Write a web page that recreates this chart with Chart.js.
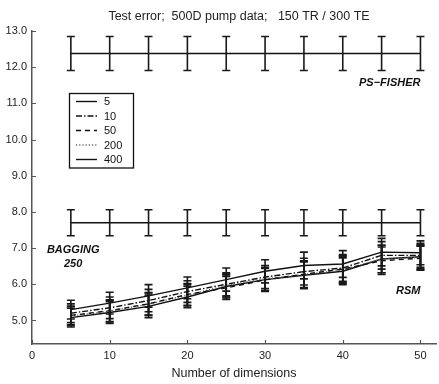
<!DOCTYPE html>
<html>
<head>
<meta charset="utf-8">
<script src="https://cdn.jsdelivr.net/npm/chart.js@4.4.0/dist/chart.umd.min.js"></script>
<style>
  html, body { margin: 0; padding: 0; background: #fff; }
  #wrap { width: 439px; height: 384px; }
</style>
</head>
<body>
<div id="wrap"><canvas id="chart" width="439" height="384"></canvas></div>
<script>
// Data
const dims = [5, 10, 15, 20, 25, 30, 35, 40, 45, 50];
const xTicks = [0, 10, 20, 30, 40, 50];
const yTicks = [5, 6, 7, 8, 9, 10, 11, 12, 13];

const psFisher = [12.38, 12.38, 12.38, 12.38, 12.38, 12.38, 12.38, 12.38, 12.38, 12.38];
const psFisherErr = [0.47, 0.47, 0.47, 0.47, 0.47, 0.47, 0.47, 0.47, 0.47, 0.47];
const bagging = [7.70, 7.70, 7.70, 7.70, 7.70, 7.70, 7.70, 7.70, 7.70, 7.70];
const baggingErr = [0.36, 0.36, 0.36, 0.36, 0.36, 0.36, 0.36, 0.36, 0.36, 0.36];

const rsm5   = [5.30, 5.48, 5.68, 5.90, 6.13, 6.36, 6.52, 6.56, 6.89, 6.87];
const rsm10  = [5.20, 5.35, 5.55, 5.80, 6.00, 6.20, 6.35, 6.45, 6.80, 6.80];
const rsm50  = [5.14, 5.27, 5.46, 5.72, 5.90, 6.12, 6.28, 6.42, 6.65, 6.72];
const rsm200 = [5.12, 5.26, 5.45, 5.70, 5.97, 6.15, 6.27, 6.40, 6.70, 6.74];
const rsm400 = [5.08, 5.22, 5.39, 5.65, 5.94, 6.13, 6.25, 6.36, 6.70, 6.76];
const rsmErr = [0.26, 0.30, 0.31, 0.30, 0.32, 0.32, 0.37, 0.37, 0.38, 0.33];

const chartTitle = 'Test error;  500D pump data;   150 TR / 300 TE';
const FONT = '"Liberation Sans", Arial, Helvetica, sans-serif';

function points(values) {
    return dims.map((d, i) => ({ x: d, y: values[i] }));
}

// vertical error bars with caps, drawn through the scales
const errorBars = {
    id: 'errorBars',
    afterDatasetsDraw(chart) {
        const { ctx, scales: { x, y } } = chart;
        ctx.save();
        chart.data.datasets.forEach(ds => {
            if (!ds.errors) return;
            ctx.strokeStyle = '#1a1a1a';
            ctx.lineWidth = 1.6;
            ds.data.forEach((p, i) => {
                const px = x.getPixelForValue(p.x);
                const top = y.getPixelForValue(p.y + ds.errors[i]);
                const bot = y.getPixelForValue(p.y - ds.errors[i]);
                ctx.beginPath();
                ctx.moveTo(px, top); ctx.lineTo(px, bot);
                ctx.moveTo(px - 4, top); ctx.lineTo(px + 4, top);
                ctx.moveTo(px - 4, bot); ctx.lineTo(px + 4, bot);
                ctx.stroke();
            });
        });
        ctx.restore();
    }
};

// inward tick marks
const innerTicks = {
    id: 'innerTicks',
    afterDraw(chart) {
        const { ctx, chartArea: area, scales: { x, y } } = chart;
        ctx.save();
        ctx.strokeStyle = '#555';
        ctx.lineWidth = 1.2;
        ctx.beginPath();
        xTicks.forEach(v => {
            const px = Math.round(x.getPixelForValue(v)) + 0.5;
            ctx.moveTo(px, area.bottom);
            ctx.lineTo(px, area.bottom - 4);
        });
        yTicks.forEach(v => {
            const py = Math.round(y.getPixelForValue(v)) + 0.5;
            ctx.moveTo(area.left, py);
            ctx.lineTo(area.left + 4, py);
        });
        ctx.stroke();
        ctx.restore();
    }
};

// title and method labels
const textLabels = {
    id: 'textLabels',
    afterDraw(chart) {
        const { ctx, chartArea: area, scales: { x, y } } = chart;
        ctx.save();
        ctx.fillStyle = '#222';
        ctx.font = '12.5px ' + FONT;
        ctx.textAlign = 'center';
        ctx.textBaseline = 'middle';
        ctx.fillText(chartTitle, (area.left + area.right) / 2 + 5, 17);

        ctx.fillStyle = '#111';
        ctx.font = 'italic bold 11px ' + FONT;
        ctx.textAlign = 'right';
        ctx.fillText('PS\u2212FISHER', x.getPixelForValue(50), y.getPixelForValue(11.55));
        ctx.fillText('RSM', x.getPixelForValue(50), y.getPixelForValue(5.82));
        ctx.textAlign = 'center';
        ctx.fillText('BAGGING', x.getPixelForValue(5.3), y.getPixelForValue(6.95));
        ctx.fillText('250', x.getPixelForValue(5.3), y.getPixelForValue(6.57));
        ctx.restore();
    }
};

// boxed legend inside the plot
const boxLegend = {
    id: 'boxLegend',
    afterDraw(chart) {
        const { ctx, chartArea: area } = chart;
        const items = chart.data.datasets.filter(ds => ds.inLegend);
        const left = area.left + 37, top = area.top + 62;
        const w = 64, rowH = 14.5;
        const h = items.length * rowH + 2;
        ctx.save();
        ctx.fillStyle = '#fff';
        ctx.fillRect(left, top, w, h);
        ctx.strokeStyle = '#111';
        ctx.lineWidth = 1.3;
        ctx.strokeRect(left + 0.5, top + 0.5, w, h);
        ctx.font = '11px ' + FONT;
        ctx.textBaseline = 'middle';
        ctx.textAlign = 'left';
        items.forEach((ds, i) => {
            const cy = top + 8.5 + i * rowH;
            ctx.strokeStyle = ds.borderColor;
            ctx.lineWidth = ds.borderWidth;
            ctx.setLineDash(ds.borderDash || []);
            ctx.beginPath();
            ctx.moveTo(left + 7, cy);
            ctx.lineTo(left + 28, cy);
            ctx.stroke();
            ctx.setLineDash([]);
            ctx.fillStyle = '#111';
            ctx.fillText(ds.label, left + 35, cy + 0.5);
        });
        ctx.restore();
    }
};

function line(label, values, errors, opts) {
    return Object.assign({
        label: label,
        data: points(values),
        errors: errors,
        borderColor: '#111',
        borderWidth: 1.4,
        pointRadius: 0,
        fill: false,
        tension: 0
    }, opts);
}

new Chart(document.getElementById('chart'), {
    type: 'line',
    data: {
        datasets: [
            line('PS-FISHER', psFisher, psFisherErr, { borderWidth: 1.6 }),
            line('BAGGING 250', bagging, baggingErr, { borderWidth: 1.6 }),
            line('5', rsm5, rsmErr, { inLegend: true }),
            line('10', rsm10, rsmErr, { inLegend: true, borderDash: [6, 2, 1.5, 2] }),
            line('50', rsm50, rsmErr, { inLegend: true, borderDash: [5, 4] }),
            line('200', rsm200, rsmErr, { inLegend: true, borderDash: [1.2, 2], borderColor: '#666' }),
            line('400', rsm400, rsmErr, { inLegend: true })
        ]
    },
    options: {
        responsive: false,
        animation: false,
        layout: { padding: { left: 0, right: 3, top: 31, bottom: 0 } },
        plugins: {
            legend: { display: false },
            tooltip: { enabled: false },
            title: { display: false }
        },
        scales: {
            x: {
                type: 'linear',
                min: 0,
                max: 52,
                afterBuildTicks: scale => { scale.ticks = xTicks.map(v => ({ value: v })); },
                afterFit: scale => { scale.height = 40; },
                grid: { display: false, drawTicks: false },
                border: { display: true, color: '#555', width: 1.5 },
                ticks: {
                    color: '#222',
                    padding: 5,
                    font: { family: FONT, size: 11 },
                    maxRotation: 0
                },
                title: {
                    display: true,
                    text: 'Number of dimensions',
                    color: '#222',
                    font: { family: FONT, size: 12.5 },
                    padding: { top: 0, bottom: 3 }
                }
            },
            y: {
                type: 'linear',
                min: 4.35,
                max: 13,
                afterBuildTicks: scale => { scale.ticks = yTicks.map(v => ({ value: v })); },
                afterFit: scale => { scale.width = 32; },
                grid: { display: false, drawTicks: false },
                border: { display: true, color: '#555', width: 1.5 },
                ticks: {
                    color: '#222',
                    padding: 5,
                    font: { family: FONT, size: 11 },
                    callback: v => Number(v).toFixed(1)
                }
            }
        }
    },
    plugins: [errorBars, innerTicks, textLabels, boxLegend]
});
</script>
</body>
</html>
